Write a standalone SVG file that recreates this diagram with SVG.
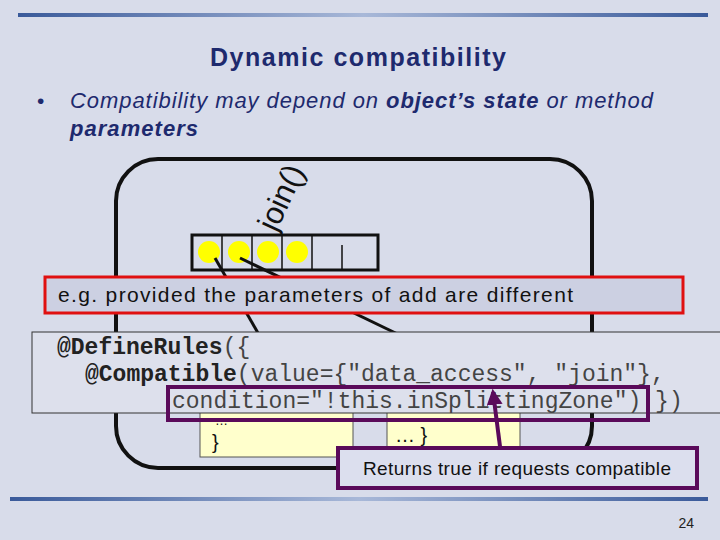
<svg xmlns="http://www.w3.org/2000/svg" width="720" height="540" viewBox="0 0 720 540">
<defs>
<linearGradient id="bar" x1="0" x2="1"><stop offset="0" stop-color="#3a5a9a"/><stop offset="0.5" stop-color="#a8b8d8"/><stop offset="1" stop-color="#3a5a9a"/></linearGradient>
<marker id="ah" viewBox="0 0 10 10" refX="8" refY="5" markerWidth="4" markerHeight="4" orient="auto"><path d="M0,0 L10,5 L0,10 z" fill="#5a0a5a"/></marker>
<style>
.t{font-family:"Liberation Sans",Arial,sans-serif}
.m{font-family:"Liberation Mono","Courier New",monospace;font-size:23px;fill:#444}
.b{font-weight:bold;fill:#222}
</style>
</defs>
<rect width="720" height="540" fill="#d8dcea"/>
<rect x="18" y="13" width="690" height="4" fill="url(#bar)"/>
<rect x="10" y="497" width="698" height="4" fill="url(#bar)"/>
<text class="t" x="358" y="66" text-anchor="middle" font-size="25" font-weight="bold" fill="#1e2a6e" textLength="296">Dynamic compatibility</text>
<text class="t" x="37" y="108" font-size="21" fill="#1e2a6e">•</text>
<text class="t" x="70" y="108" font-size="22" font-style="italic" fill="#1e2a6e" textLength="583">Compatibility may depend on <tspan font-weight="bold">object’s state</tspan> or method</text>
<text class="t" x="70" y="136" font-size="22" font-style="italic" font-weight="bold" fill="#1e2a6e" textLength="128">parameters</text>
<g id="object"><rect x="116" y="159" width="476" height="309" rx="42" fill="none" stroke="#111" stroke-width="4"/></g>
<text class="t" x="276" y="233" font-size="31" fill="#111" transform="rotate(-65 276 233)">join()</text>
<g id="queue">
<rect x="192" y="235" width="186" height="35" fill="none" stroke="#111" stroke-width="3"/>
<path d="M222 235v35M252 235v35M282 235v35M312 235v35M342 245v25" stroke="#111" stroke-width="1.5"/>
<g fill="#ffff00"><circle cx="209" cy="252" r="11"/><circle cx="239" cy="252" r="11"/><circle cx="268" cy="252" r="11"/><circle cx="297" cy="252" r="11"/></g>
</g>
<g id="connectors" stroke="#111" stroke-width="3" fill="none">
<path d="M215 258 L262 340"/>
<path d="M240 258 L410 340"/>
</g>
<g id="methods">
<rect x="200" y="400" width="153" height="57" fill="#ffffcc" stroke="#555"/>
<rect x="387" y="400" width="133" height="51" fill="#ffffcc" stroke="#555"/>
<text class="t" x="215" y="425" font-size="13" fill="#111">…</text>
<text class="t" x="212" y="449" font-size="20" fill="#111">}</text>
<text class="t" x="395" y="442" font-size="20" fill="#111">… }</text>
</g>
<g id="code">
<rect x="32" y="332" width="700" height="81" fill="#dde0ec" stroke="#333"/>
<text class="m" x="57" y="354"><tspan class="b">@DefineRules</tspan>({</text>
<text class="m" x="85" y="381"><tspan class="b">@Compatible</tspan>(value={"data_access", "join"},</text>
<text class="m" x="172" y="408">condition="!this.inSplittingZone") })</text>
<rect x="168" y="387" width="480" height="33" fill="none" stroke="#5a0a5a" stroke-width="4"/>
</g>
<g id="example">
<rect x="45" y="277" width="638" height="36" fill="#ccd0e2" stroke="#e01010" stroke-width="3"/>
<text class="t" x="58" y="302" font-size="21" fill="#111" textLength="515">e.g. provided the parameters of add are different</text>
</g>
<g id="note">
<path d="M502 462 L493 392" stroke="#5a0a5a" stroke-width="4" fill="none" marker-end="url(#ah)"/>
<rect x="338" y="448" width="359" height="40" fill="#dcdfee" stroke="#5a0a5a" stroke-width="4"/>
<text class="t" x="517" y="475" text-anchor="middle" font-size="19" fill="#111" textLength="308">Returns true if requests compatible</text>
</g>
<text class="t" x="694" y="528" text-anchor="end" font-size="14" fill="#222">24</text>
</svg>
